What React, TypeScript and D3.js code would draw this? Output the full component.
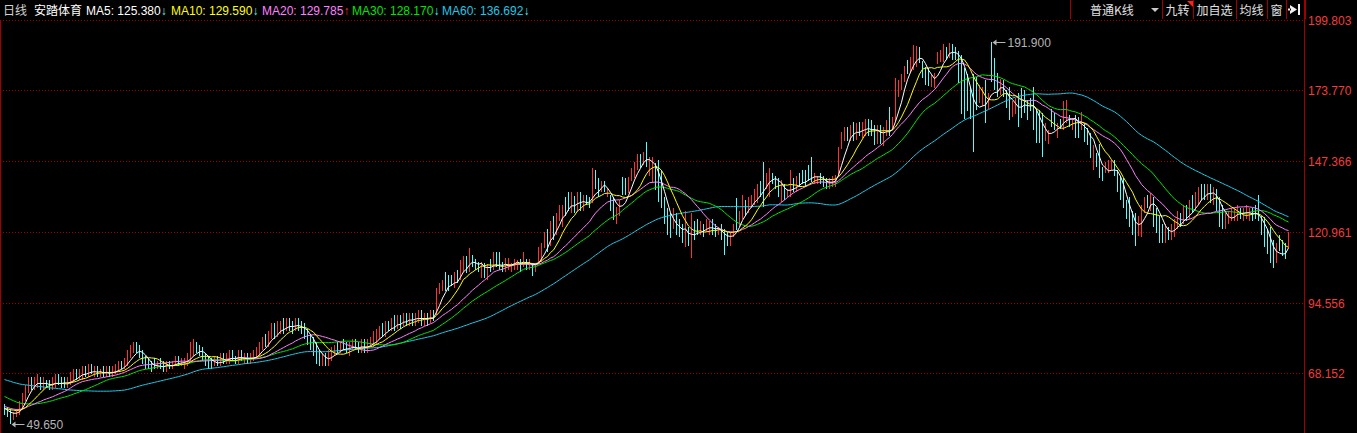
import React from 'react';
import * as d3 from 'd3';

// closes before the first visible bar, only used to seed the moving averages
const priorCloses = [
  74, 73, 75, 72, 74, 73, 71, 72, 74, 73, 72, 71, 73, 74, 72, 70, 72, 73, 71, 72,
  74, 73, 71, 72, 73, 71, 72, 70, 72, 71, 70, 69, 68, 69, 67, 66, 67, 65, 66, 65,
  61, 60, 58, 57, 56, 55, 56, 54, 55, 56, 55, 56, 54, 56, 55, 57, 56, 55, 54,
];

const opens = [
  55, 55, 54, 52, 53, 54, 56, 59, 62, 66,
  63, 64, 66, 63, 65, 65, 63, 64, 67, 66,
  65, 64, 65, 66, 69, 67, 67, 70, 68, 71,
  68, 70, 68, 70, 68, 70, 68, 69, 70, 72,
  71, 72, 75, 77, 79, 78, 76, 74, 73, 72,
  72, 71, 73, 71, 70, 72, 71, 72, 74, 72,
  71, 72, 74, 76, 79, 78, 77, 75, 74, 72,
  72, 74, 72, 75, 73, 73, 76, 74, 73, 76,
  73, 75, 73, 74, 75, 76, 78, 81, 79, 82,
  85, 83, 85, 87, 85, 88, 87, 85, 88, 87,
  86, 84, 82, 80, 79, 75, 72, 75, 72, 74,
  76, 78, 77, 79, 79, 76, 78, 80, 79, 77,
  79, 77, 79, 79, 81, 82, 85, 83, 87, 85,
  88, 86, 89, 87, 89, 87, 90, 87, 88, 91,
  87, 90, 88, 91, 91, 99, 100, 104, 104, 104,
  101, 107, 104, 108, 111, 107, 112, 111, 110, 105,
  109, 105, 111, 107, 113, 112, 109, 107, 108, 107,
  108, 108, 111, 109, 111, 108, 109, 106, 110, 113,
  116, 121, 117, 126, 121, 126, 125, 133, 135, 129,
  134, 130, 135, 130, 134, 133, 133, 144, 141, 137,
  140, 134, 134, 132, 126, 128, 140, 140, 137, 140,
  143, 146, 149, 147, 153, 143, 140, 146, 141, 137,
  132, 128, 126, 123, 126, 124, 122, 117, 121, 114,
  123, 124, 121, 123, 122, 121, 124, 123, 120, 122,
  121, 120, 117, 120, 129, 124, 127, 132, 129, 131,
  133, 134, 139, 145, 139, 136, 143, 141, 139, 134,
  138, 135, 134, 140, 137, 142, 143, 143, 144, 146,
  140, 140, 142, 141, 140, 138, 139, 139, 143, 153,
  156, 159, 156, 161, 156, 161, 157, 158, 162, 161,
  160, 156, 160, 155, 158, 163, 160, 163, 172, 175,
  178, 185, 181, 183, 184, 189, 184, 182, 180, 176,
  175, 184, 185, 186, 190, 187, 190, 188, 188, 186,
  181, 176, 171, 172, 172, 169, 170, 172, 169, 184,
  180, 177, 174, 176, 173, 172, 166, 166, 171, 173,
  172, 170, 170, 172, 167, 164, 162, 156, 155, 166,
  164, 157, 163, 160, 163, 164, 160, 164, 163, 160,
  161, 159, 156, 146, 150, 150, 144, 143, 144, 145,
  147, 143, 139, 135, 131, 129, 125, 124, 120, 125,
  129, 134, 130, 133, 130, 126, 124, 118, 123, 120,
  121, 124, 127, 125, 130, 127, 133, 131, 133, 138,
  137, 134, 138, 133, 136, 132, 128, 123, 125, 126,
  126, 127, 129, 126, 127, 126, 129, 130, 132, 126,
  124, 119, 118, 114, 110, 118, 116, 115, 115.5,
];

const highs = [
  57, 56, 55, 54, 55, 58, 61, 64, 67, 67,
  67, 68, 67, 67, 66, 66, 67, 68, 68, 67,
  67, 67, 69, 70, 70, 70, 71, 71, 72, 72,
  71, 71, 70, 71, 71, 71, 71, 72, 73, 73,
  74, 77, 79, 80, 80, 79, 77, 75, 74, 73,
  74, 73, 74, 73, 73, 73, 73, 75, 75, 74,
  74, 76, 80, 81, 80, 79, 78, 76, 75, 74,
  75, 75, 76, 76, 76, 77, 77, 75, 77, 77,
  76, 76, 76, 77, 78, 80, 82, 83, 84, 87,
  87, 88, 88, 89, 89, 89, 88, 89, 89, 88,
  87, 85, 83, 82, 80, 77, 76, 76, 77, 78,
  79, 80, 80, 81, 80, 80, 81, 81, 80, 81,
  81, 81, 82, 84, 85, 86, 87, 88, 88, 89,
  90, 90, 90, 91, 91, 91, 91, 91, 92, 92,
  91, 91, 92, 92, 100, 102, 103, 106, 105, 105,
  106, 107, 110.7, 112, 112, 115, 112.5, 111, 110, 110,
  109.5, 109, 111, 113.5, 113.5, 113.5, 110, 111.5, 111.5, 109.5,
  111, 110.5, 111, 113.5, 111, 111, 109.5, 109.5, 115.5, 117,
  121, 122, 125, 127, 128, 131, 131, 134, 136, 136,
  134.5, 136, 136, 135, 135, 134, 145, 144, 141, 140,
  140, 137.5, 135, 134, 130.5, 133, 141.6, 141, 141.6, 145,
  147, 150, 150, 151, 154.6, 149, 149, 146.6, 148, 144,
  134, 130, 128, 130, 128, 126, 124, 129, 123, 128,
  125, 126, 125, 124, 126, 125, 126, 124, 123, 124,
  122, 121, 121, 124, 133.8, 129, 135, 133, 134, 135,
  137, 139, 140, 147, 143, 145, 143, 142, 141, 140.5,
  139, 137, 144, 141, 142, 143, 144, 144, 146, 149,
  143, 142, 143, 142, 141, 141, 142, 142.3, 152.7, 158.3,
  160, 160, 161, 162, 161.7, 162, 162, 163, 163, 162.8,
  161, 161, 161, 160, 162.8, 167.6, 164, 178.6, 177.8, 180,
  183, 185, 186.4, 190.8, 190.5, 190, 184.8, 182.6, 182, 180,
  180.4, 188.2, 189, 191, 190, 191.5, 191, 190, 188.5, 187,
  182, 180, 175, 180, 179, 176, 175, 177.8, 173, 191.9,
  186, 180.3, 178, 177.8, 174, 175, 170, 171, 172.8, 174.6,
  174, 170.3, 171, 175, 167, 166.5, 165.4, 161.7, 159, 167,
  165.4, 161.7, 163, 170, 170.3, 164.7, 163.5, 164.7, 164, 165.8,
  161.7, 159.8, 158, 153.5, 150.5, 154, 145.3, 147, 148, 148,
  148, 144, 142, 141, 133, 134, 129, 128, 127, 131,
  134, 135, 135.5, 134, 130, 127, 124, 124, 123, 124,
  126, 129, 128, 131, 131, 133, 135, 136, 138, 139,
  139, 139, 139, 138, 137, 134, 131, 128, 129, 130,
  130, 131, 130, 130, 131, 130, 130, 131, 135, 127,
  126.8, 122, 123, 118, 117, 120, 118, 117, 121,
];

const lows = [
  53, 52, 49.65, 51, 52, 53, 55, 58, 61, 62,
  62, 63, 62, 62, 63, 62, 62, 63, 64, 63,
  63, 63, 64, 65, 66, 66, 66, 67, 67, 68,
  67, 67, 67, 67, 67, 67, 67, 68, 69, 70,
  70, 71, 74, 76, 76, 74, 72, 70, 70, 69,
  70, 70, 70, 69, 69, 70, 70, 71, 71, 71,
  70, 71, 73, 75, 76, 75, 73, 71, 70, 70,
  71, 71, 71, 72, 72, 72, 73, 72, 72, 73,
  72, 72, 72, 73, 74, 75, 77, 78, 78, 81,
  81, 82, 83, 83, 84, 84, 83, 84, 84, 83,
  81, 79, 77, 75, 72, 71, 71, 71, 71, 73,
  75, 76, 76, 77, 76, 75, 77, 77, 76, 76,
  76, 76, 78, 78, 79, 81, 82, 82, 84, 84,
  84, 85, 85, 86, 86, 86, 86, 86, 87, 86,
  86, 86, 87, 88, 90, 98, 99, 99, 99, 101,
  100, 102, 103, 106, 105.6, 106, 108, 107, 106, 104,
  104, 103, 106, 107, 108, 107, 106, 106, 107, 106,
  107, 107, 106, 108, 107, 107, 104.5, 106, 109, 110,
  115, 113.5, 116, 118, 120, 125, 123, 127, 129, 128,
  128, 128.5, 129, 129, 131, 130, 132, 137, 134, 136,
  136, 134, 129, 125.5, 124, 127, 135, 135, 135.5, 140,
  141, 144, 145, 146, 145.3, 142, 139.4, 136.7, 132.3, 130,
  124, 120, 118.7, 122, 120, 119, 117, 115.5, 116, 111.4,
  118, 120, 120, 119, 121, 120, 120, 119, 120, 118,
  112.5, 116, 116, 119, 121.8, 123, 126, 127, 128, 130,
  131, 132, 134, 130.3, 137, 134, 139, 137, 134, 132.3,
  133, 134, 134, 136, 136, 138, 139, 138, 140, 139.8,
  139, 139, 139, 138, 137, 137, 138, 137.9, 142, 152,
  155, 155, 155, 155, 155.3, 156.7, 156, 157, 157, 157,
  153.5, 154, 154, 153, 157, 157, 159, 162, 171.4, 174,
  177, 180, 180.4, 181.6, 182.6, 184, 178.6, 175.8, 175.5, 175,
  174.7, 183.5, 184.5, 184.5, 185.2, 186, 185, 185, 176.5, 165,
  163, 166, 163, 151, 166.5, 169, 168, 161.7, 167, 177,
  174, 171.4, 172, 171.5, 167.3, 162.8, 164, 165, 160.3, 163.5,
  165.4, 162.8, 166, 159, 154.2, 154.2, 149, 155, 154, 160,
  159, 156.1, 159.5, 159, 161.7, 160.3, 159, 156, 156, 159,
  154.6, 153.5, 148.6, 144, 145.3, 141, 140, 143, 143, 144,
  142, 136, 133, 130, 126, 123, 120, 116, 119.7, 119,
  128, 130, 129, 123, 120.7, 117, 116.9, 117, 118, 118,
  119, 122, 123, 124, 125, 126, 128, 129, 131, 133,
  133, 133, 132, 131, 129, 123, 122, 122, 124, 125,
  125, 125, 126, 125, 126, 125, 125, 126, 125, 120,
  115.5, 113, 109.5, 107.7, 109.5, 114, 112, 111, 115,
];

const closes = [
  54.5, 53.5, 52.5, 53, 54, 57, 60, 63, 65, 64,
  65, 66, 63, 65, 64, 63, 65, 66, 65, 64,
  64, 65, 67, 68, 67, 68, 69, 68, 70, 69,
  69, 68, 69, 68, 69, 68, 69, 70, 71, 71,
  72, 75, 77, 78, 77, 76, 73, 72, 71, 70,
  71, 72, 71, 70, 72, 71, 72, 73, 72, 73,
  72, 74, 77, 78, 77, 76, 75, 73, 72, 71,
  73, 72, 74, 73, 74, 75, 74, 73, 75, 74,
  74, 73, 74, 75, 76, 78, 80, 79, 82, 84,
  83, 85, 86, 85, 87, 86, 85, 87, 86, 85,
  83, 81, 79, 78, 74, 73, 74, 73, 75, 76,
  77, 77, 78, 78, 77, 78, 79, 78, 77, 79,
  78, 79, 80, 81, 82, 84, 83, 86, 85, 87,
  86, 88, 87, 89, 88, 89, 88, 89, 90, 88,
  89, 88, 90, 90, 99, 101, 102, 100, 101, 102,
  105, 104, 109, 111, 107, 113, 109, 108, 108, 109,
  106, 108, 108, 111, 109, 108, 107, 110, 110, 109,
  110, 110, 108, 112, 108, 110, 106, 109, 114, 116,
  119, 117, 123, 121, 127, 130, 130, 129, 131, 134,
  130, 134, 131, 133, 132, 131, 141, 139, 137, 139,
  137, 135, 131, 127, 129, 131, 136, 137, 140, 143,
  146, 148, 147, 150, 149, 146, 144, 141, 137, 132,
  127, 124, 121, 126, 123, 121, 119, 122, 118, 121,
  120, 122, 123, 121, 124, 123, 122, 121, 122, 120,
  117, 118, 120, 123, 126, 127, 131, 129, 132, 133,
  135, 137, 136, 140, 141, 144, 141, 139, 136, 137,
  135, 136, 139, 138, 140, 139, 141, 140, 142, 143,
  142, 141, 140, 139, 138, 140, 141, 142, 150, 156,
  158, 157, 159, 157, 160, 158, 160, 161, 159, 158,
  158, 159, 157, 158, 160, 158, 163, 172, 176, 178,
  181, 182, 186, 188, 187, 186, 181, 177, 176, 179,
  178, 186, 187, 189, 187, 189, 188, 187, 185, 179,
  175, 170, 166, 163, 168, 171, 172, 168, 172, 178,
  175, 173, 176, 172, 170, 166, 168, 169, 165, 170,
  170, 167, 168, 166, 162, 157, 155, 158, 157, 162,
  160, 160, 161, 165, 167, 162, 161, 162, 158, 164,
  157, 155, 150, 152, 146, 142, 140, 145, 146, 147,
  143, 138, 135, 131, 128, 124, 122, 119, 126, 130,
  133, 132, 134, 129, 125, 122, 120, 121, 121, 122,
  124, 126, 125, 128, 127, 130, 131, 133, 135, 136,
  135, 137, 134, 136, 131, 126, 124, 126, 127, 128,
  128, 129, 127, 128, 129, 128, 127, 128, 126, 122,
  118, 116, 112, 110, 113, 115, 114, 113, 120.6,
];

const yTicks = [199.803, 173.77, 147.366, 120.961, 94.556, 68.152];

const maPeriods = [5, 10, 20, 30, 60];
const maColors = ['#ffffff', '#ffff00', '#ff80ff', '#00e600', '#1ec8e6'];
const maLabels = ['MA5: 125.380', 'MA10: 129.590', 'MA20: 129.785', 'MA30: 128.170', 'MA60: 136.692'];
const maArrows = ['↓', '↓', '↑', '↓', '↓'];
const maLabelX = [86, 171, 262, 352, 442];

const buttonLabels = ['普通K线', '九转', '加自选', '均线', '窗'];
const buttonEdges = [1070, 1162, 1193, 1236, 1267, 1286, 1305];

const UP = '#ff3232';
const DOWN = '#54fcfc';
const FRAME = '#a00000';
const LATIN = "Arial, 'Liberation Sans', sans-serif";
const CJK = "'Noto Sans CJK SC', 'Noto Sans', sans-serif";

const App: React.FC = () => {
  const width = 1357;
  const height = 433;
  const n = closes.length;

  const x = d3.scaleLinear().domain([0, n - 1]).range([4, 1288]);
  const y = d3.scaleLinear().domain([68.152, 199.803]).range([373.9, 20.7]);
  const px = (i: number) => Math.round(x(i)) + 0.5;

  // moving averages
  const allCloses = priorCloses.concat(closes);
  const maSeries = maPeriods.map((p) =>
    closes.map((_, i) => {
      const end = priorCloses.length + i + 1;
      return d3.mean(allCloses.slice(end - p, end)) as number;
    })
  );
  const line = d3.line<number>().x((_, i) => px(i)).y((v) => y(v));

  const hi = d3.maxIndex(highs);
  const lo = d3.minIndex(lows);
  const fmt = d3.format('.3f');

  const marker = (i: number, v: number, key: string) => {
    const mx = px(i) + 1;
    const my = Math.round(y(v)) + 0.5;
    return (
      <g key={key}>
        <path d={`M${mx},${my} l4,-3 v6 z`} fill="#b4b4b4" />
        <line x1={mx + 3} x2={mx + 13} y1={my} y2={my} stroke="#b4b4b4" />
        <text x={mx + 15} y={my + 4.5} fill="#b4b4b4" fontSize={12} fontFamily={LATIN}>
          {fmt(v)}
        </text>
      </g>
    );
  };

  return (
    <svg
      width={width}
      height={height}
      style={{ position: 'fixed', left: 0, top: 0, background: '#000', display: 'block' }}
    >
      <rect width={width} height={height} fill="#000" />

      {/* grid */}
      {yTicks.map((t) => {
        const gy = Math.floor(y(t)) + 0.5;
        return (
          <g key={t}>
            <line x1={0} x2={1304} y1={gy} y2={gy} stroke={FRAME} strokeDasharray="1 2" shapeRendering="crispEdges" />
            <text x={1308} y={gy + 4.5} fill="#f03c3c" fontSize={12} fontFamily={LATIN}>
              {fmt(t)}
            </text>
          </g>
        );
      })}

      <line x1={0.5} x2={0.5} y1={20} y2={height} stroke={FRAME} shapeRendering="crispEdges" />
      <line x1={1304.5} x2={1304.5} y1={0} y2={height} stroke={FRAME} shapeRendering="crispEdges" />

      {/* candles */}
      <g shapeRendering="crispEdges">
        {closes.map((c, i) => {
          const o = opens[i];
          const col = c >= o ? UP : DOWN;
          const cx = px(i);
          const top = y(Math.max(o, c));
          const bot = y(Math.min(o, c));
          return (
            <g key={i}>
              <line x1={cx} x2={cx} y1={y(highs[i])} y2={y(lows[i])} stroke={col} />
              <rect x={cx - 0.5} y={top} width={1} height={Math.max(1, bot - top)} fill={col} />
            </g>
          );
        })}
      </g>

      {/* moving averages, longest first so MA5 sits on top */}
      {maSeries
        .map((s, k) => ({ s, k }))
        .reverse()
        .map(({ s, k }) => (
          <path key={k} d={line(s) || ''} fill="none" stroke={maColors[k]} strokeWidth={1} />
        ))}

      {marker(hi, highs[hi], 'hi')}
      {marker(lo, lows[lo], 'lo')}

      {/* header */}
      <text x={3} y={15} fill="#d2d2d2" fontSize={12} fontFamily={CJK}>日线</text>
      <text x={34} y={15} fill="#ffffff" fontSize={12} fontFamily={CJK}>安踏体育</text>
      {maLabels.map((lab, k) => (
        <text key={lab} x={maLabelX[k]} y={15} fontSize={12} fontFamily={LATIN}>
          <tspan fill={maColors[k]}>{lab}</tspan>
          <tspan fill={maArrows[k] === '↑' ? UP : DOWN}>{maArrows[k]}</tspan>
        </text>
      ))}

      {/* toolbar */}
      {buttonEdges.map((e) => (
        <line key={e} x1={e + 0.5} x2={e + 0.5} y1={0} y2={19} stroke={FRAME} shapeRendering="crispEdges" />
      ))}
      {buttonLabels.map((lab, k) => {
        const cx = k === 0 ? 1112 : (buttonEdges[k] + buttonEdges[k + 1]) / 2;
        return (
          <text key={lab} x={cx} y={15} textAnchor="middle" fill="#e0e0e0" fontSize={12} fontFamily={CJK}>
            {lab}
          </text>
        );
      })}
      <path d="M1151,8 h8 l-4,4 z" fill="#c8c8c8" />
      <path d="M1187,1 h6 v6 z" fill="#ff2020" />
      <path d="M1290,5 v9 l7,-4.5 z M1288,8.5 h3 v2 h-3 z M1298,4 h2 v11 h-2 z" fill="#f0f0f0" />
    </svg>
  );
};

export default App;
